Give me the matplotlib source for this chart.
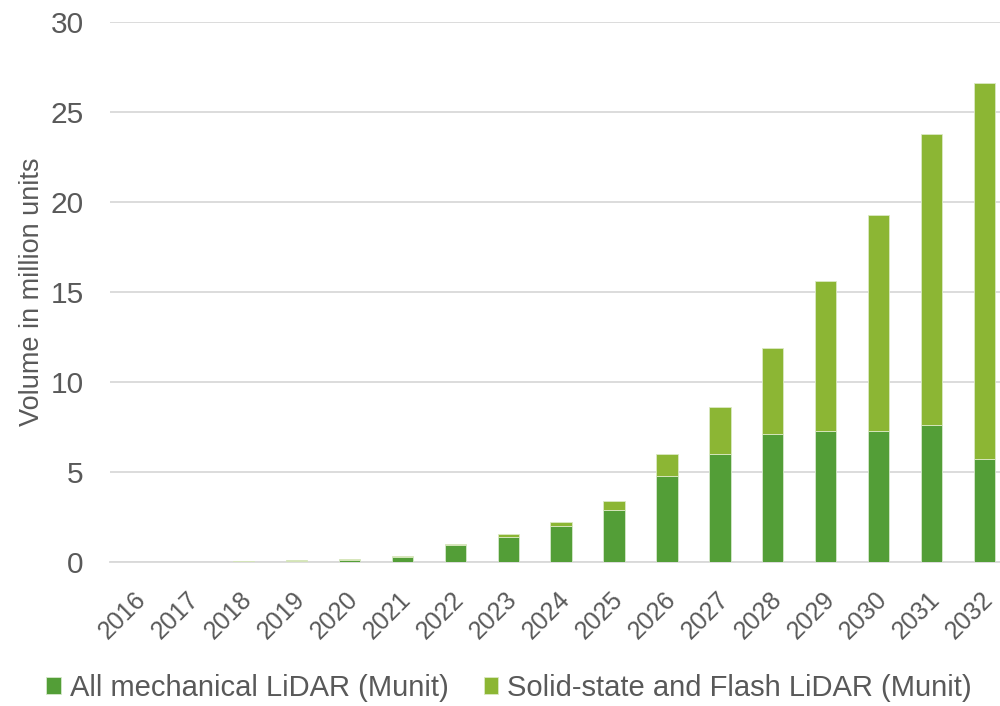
import matplotlib.pyplot as plt
import matplotlib.transforms as mtransforms
import numpy as np

plt.rcParams['font.family'] = ['Liberation Sans', 'DejaVu Sans']

years = [str(y) for y in range(2016, 2033)]
mechanical = [0, 0, 0.02, 0.05, 0.13, 0.3, 0.94, 1.4, 2.0, 2.9, 4.8, 6.0, 7.1, 7.3, 7.3, 7.6, 5.7]
totals = [0, 0, 0.04, 0.1, 0.15, 0.33, 1.0, 1.55, 2.2, 3.4, 6.0, 8.6, 11.9, 15.6, 19.3, 23.8, 26.6]
solid_state = [t - m for t, m in zip(totals, mechanical)]

c_mech = '#539E37'
c_solid = '#8CB634'
grey = '#595959'

fig = plt.figure(figsize=(10, 7.06), dpi=100)
ax = fig.add_axes([0.11, 0.204, 0.89, 0.765])

x = np.arange(len(years))
ax.bar(x, mechanical, width=0.4, color=c_mech, edgecolor='#d6e8cc', linewidth=0.6,
       label='All mechanical LiDAR (Munit)', zorder=3)
ax.bar(x, solid_state, width=0.4, bottom=mechanical, color=c_solid, edgecolor='#dbe9c4',
       linewidth=0.6, label='Solid-state and Flash LiDAR (Munit)', zorder=3)

ax.set_ylim(0, 30)
ax.set_xlim(-0.52, 16.29)
ax.set_yticks(range(0, 31, 5))
ax.yaxis.grid(True, color='#d9d9d9', linewidth=1.3, zorder=0)
ax.set_axisbelow(True)
for s in ['top', 'right', 'left']:
    ax.spines[s].set_visible(False)
ax.spines['bottom'].set_color('#d9d9d9')
ax.spines['bottom'].set_linewidth(1.3)

ax.set_xticks(x)
ax.set_xticklabels(years, rotation=45, ha='right', va='center', rotation_mode='anchor',
                   fontsize=18, color=grey)
ax.tick_params(axis='x', length=0, pad=24)
# nudge the rotated year labels a little to the right
shift = mtransforms.ScaledTranslation(5 / 100, 0, fig.dpi_scale_trans)
for lbl in ax.get_xticklabels():
    lbl.set_transform(lbl.get_transform() + shift)

ax.tick_params(axis='y', length=0, labelsize=21.5, labelcolor=grey, pad=19)
ax.set_ylabel('Volume in million units', fontsize=19.5, color=grey, labelpad=4)

handles, labels = ax.get_legend_handles_labels()
fig.legend(handles, labels, loc='center', bbox_to_anchor=(0.509, 0.0255), ncol=2,
           frameon=False, fontsize=21, labelcolor=grey, handlelength=0.5, handleheight=0.5,
           handletextpad=0.3, columnspacing=1.2)

fig.savefig('out.png', dpi=100)
